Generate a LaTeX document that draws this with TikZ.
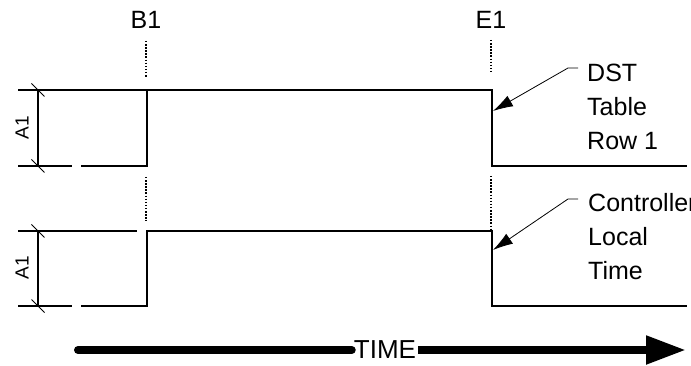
\documentclass[tikz,border=0pt]{standalone}
\usepackage{fontspec}
\setmainfont{Liberation Sans}
\usetikzlibrary{arrows.meta}
\begin{document}
\begin{tikzpicture}[x=1pt,y=-1pt,
  signal/.style={line width=2.8pt,line join=miter},
  thinline/.style={line width=1.1pt},
  dotline/.style={line width=1.3pt,dash pattern=on 1.5pt off 1.6pt},
  tickmark/.style={line width=1pt},
  leader/.style={line width=0.8pt,-{Latex[length=20pt,width=12pt]}},
  biglabel/.style={inner sep=0pt,font=\fontsize{25}{34}\selectfont},
  dimlabel/.style={inner sep=0pt,rotate=90,font=\fontsize{19}{22}\selectfont},
  sidelabel/.style={inner sep=0pt,anchor=west,align=left,font=\fontsize{25}{34}\selectfont}]
\useasboundingbox (0,0) rectangle (691,366);

% labels at the top
\node[biglabel] (b1) at (146,20) {B1};
\node[biglabel] (e1) at (491,20) {E1};

% dotted markers
\coordinate (b1a) at (146,41); \coordinate (b1b) at (146,78);
\coordinate (b1c) at (146,177); \coordinate (b1d) at (146,221);
\coordinate (e1a) at (491,40); \coordinate (e1b) at (491,73);
\coordinate (e1c) at (491,176); \coordinate (e1d) at (491,229);
\draw[dotline] (b1a) -- (b1b);
\draw[dotline] (b1c) -- (b1d);
\draw[dotline] (e1a) -- (e1b);
\draw[dotline] (e1c) -- (e1d);

% top signal
\coordinate (s1a) at (81,166);
\coordinate (s1b) at (147,166);
\coordinate (s1c) at (147,90);
\coordinate (s1d) at (492,90);
\coordinate (s1e) at (492,166);
\coordinate (s1f) at (687,166);
\draw[signal] (s1a) -- (s1b) -- (s1c) -- (s1d) -- (s1e) -- (s1f);

% top dimension
\coordinate (d1a) at (18,90); \coordinate (d1b) at (18,166);
\coordinate (d1c) at (72,166);
\coordinate (d1t) at (38,90); \coordinate (d1u) at (38,166);
\draw[thinline] (d1a) -- (s1c);
\draw[thinline] (d1b) -- (d1c);
\draw[thinline] (d1t) -- (d1u);
\draw[tickmark] ([shift={(-6.5,-6.5)}]d1t) -- ([shift={(6.5,6.5)}]d1t);
\draw[tickmark] ([shift={(-6.5,-6.5)}]d1u) -- ([shift={(6.5,6.5)}]d1u);
\node[dimlabel] (a1top) at (22,128) {A1};

% bottom signal
\coordinate (s2a) at (81,306);
\coordinate (s2b) at (147,306);
\coordinate (s2c) at (147,231);
\coordinate (s2d) at (492,231);
\coordinate (s2e) at (492,306);
\coordinate (s2f) at (687,306);
\draw[signal] (s2a) -- (s2b) -- (s2c) -- (s2d) -- (s2e) -- (s2f);

% bottom dimension
\coordinate (d2a) at (18,231); \coordinate (d2b) at (18,306);
\coordinate (d2e) at (137,231); \coordinate (d2c) at (72,306);
\coordinate (d2t) at (38,231); \coordinate (d2u) at (38,306);
\draw[thinline] (d2a) -- (d2e);
\draw[thinline] (d2b) -- (d2c);
\draw[thinline] (d2t) -- (d2u);
\draw[tickmark] ([shift={(-6.5,-6.5)}]d2t) -- ([shift={(6.5,6.5)}]d2t);
\draw[tickmark] ([shift={(-6.5,-6.5)}]d2u) -- ([shift={(6.5,6.5)}]d2u);
\node[dimlabel] (a1bot) at (22,268) {A1};

% side labels with leaders
\node[sidelabel] (dst) at (587,107) {DST\\Table\\Row 1};
\node[sidelabel] (ctl) at (588,237) {Controller\\Local\\Time};
\coordinate (l1a) at (578,68); \coordinate (l1b) at (568,68); \coordinate (l1tip) at (493,111);
\coordinate (l2a) at (578,199); \coordinate (l2b) at (568,199); \coordinate (l2tip) at (493,250);
\draw[leader] (l1a) -- (l1b) -- (l1tip);
\draw[leader] (l2a) -- (l2b) -- (l2tip);

% time arrow
\node[biglabel,font=\fontsize{26}{30}\selectfont,inner xsep=2pt] (time) at (385,350) {TIME};
\coordinate (tstart) at (78,350);
\coordinate (tend) at (686,350);
\draw[line width=8pt,line cap=round] (tstart) -- (time.west);
\draw[line width=8pt,-{Triangle[length=40pt,width=27pt]}] (time.east) -- (tend);
\end{tikzpicture}
\end{document}
